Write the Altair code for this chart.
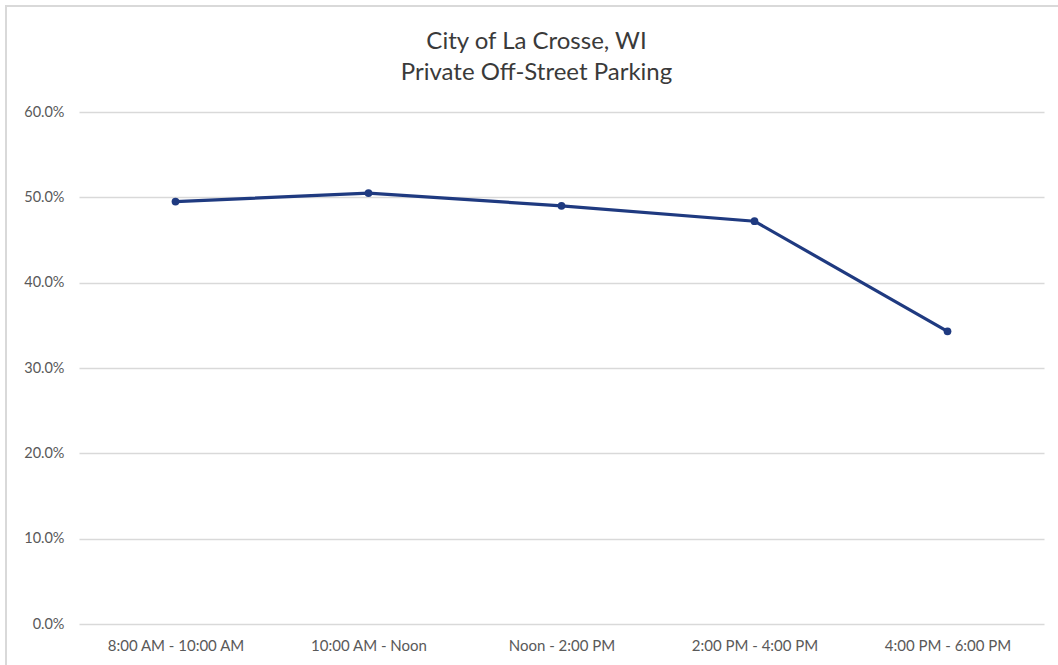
import altair as alt
import pandas as pd

categories = ["8:00 AM - 10:00 AM", "10:00 AM - Noon", "Noon - 2:00 PM", "2:00 PM - 4:00 PM", "4:00 PM - 6:00 PM"]
occupancy = [0.495, 0.505, 0.490, 0.472, 0.343]

df = pd.DataFrame({"period": categories, "occ": occupancy})

FONT = "Lato"
LINE = "#1f3a80"

base = alt.Chart(df).encode(
    x=alt.X("period:N", sort=categories, title=None,
            scale=alt.Scale(paddingInner=0, paddingOuter=0.5),
            axis=alt.Axis(labelAngle=0, domain=False, ticks=False, grid=False,
                          labelPadding=14, labelFontSize=15, labelColor="#595959",
                          labelFont=FONT)),
    y=alt.Y("occ:Q", title=None,
            scale=alt.Scale(domain=[0, 0.6], nice=False),
            axis=alt.Axis(format=".1%", values=[0, 0.1, 0.2, 0.3, 0.4, 0.5, 0.6],
                          domain=False, ticks=False, labelPadding=15,
                          labelFontSize=14.5, labelColor="#595959", labelFont=FONT,
                          gridColor="#d9d9d9", gridWidth=1.5)),
)

line = base.mark_line(color=LINE, strokeWidth=3.2)
pts = base.mark_circle(color=LINE, size=60, opacity=1)

frame = alt.Chart(df).mark_rect(fill=None, stroke="#d9d9d9", strokeWidth=1.5, clip=False).encode(
    x=alt.value(-73), x2=alt.value(980), y=alt.value(-106), y2=alt.value(560)
)

chart = (frame + line + pts).properties(
    width=965, height=512,
    padding={"left": 79, "top": 112, "right": 14, "bottom": 41},
    autosize=alt.AutoSizeParams(type="none"),
    background="white",
    title=alt.TitleParams(["City of La Crosse, WI", "Private Off-Street Parking"],
                          anchor="middle", frame="bounds", font=FONT, fontSize=24,
                          fontWeight="normal", color="#3a3a3a", lineHeight=31,
                          offset=-80, dx=4),
).configure_view(strokeWidth=0, stroke=None)

chart.save("out.html", embed_options={"renderer": "svg", "actions": False})
